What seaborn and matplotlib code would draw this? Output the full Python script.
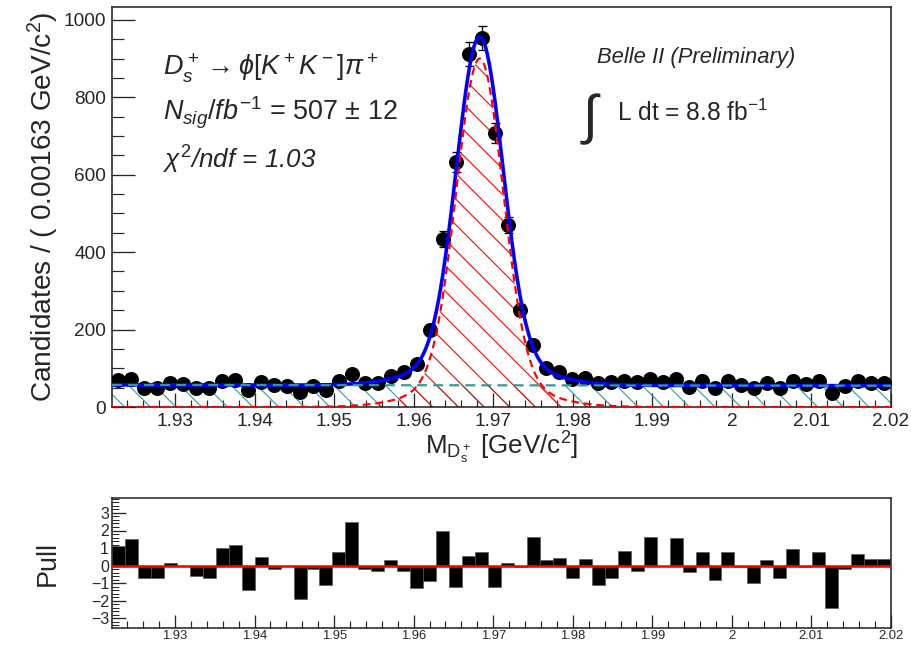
import numpy as np
import pandas as pd
import matplotlib
matplotlib.use("Agg")
import matplotlib.pyplot as plt
import seaborn as sns
from matplotlib.ticker import MultipleLocator, FuncFormatter

# ---------------- data ----------------
x_min, x_max = 1.92208, 2.02
bin_width = 0.00163
counts = [71, 72, 50, 50, 61, 59, 50, 50, 68, 71,
          44, 64, 58, 54, 40, 53, 44, 67, 84, 61,
          63, 79, 91, 111, 200, 434, 633, 912, 953, 708,
          470, 251, 160, 100, 90, 72, 74, 61, 64, 68,
          64, 72, 65, 72, 52, 68, 48, 66, 57, 50,
          61, 50, 68, 59, 66, 35, 54, 66, 61, 61]
pulls = [1.1, 1.5, -0.7, -0.7, 0.15, 0.0, -0.6, -0.7, 1.0, 1.15,
         -1.4, 0.5, -0.2, 0.0, -1.9, -0.2, -1.1, 0.8, 2.5, -0.2,
         -0.3, 0.3, -0.3, -1.25, -0.9, 2.0, -1.2, 0.55, 0.8, -1.2,
         0.15, -0.1, 1.65, 0.3, 0.45, -0.7, 0.35, -1.1, -0.7, 0.85,
         -0.3, 1.65, 0.0, 1.6, -0.35, 0.8, -0.8, 0.8, -0.1, -1.0,
         0.3, -0.7, 0.95, -0.1, 0.8, -2.4, -0.2, 0.65, 0.35, 0.35]

# fit result parameters
sig_mean = 1.9683
sig_core_amp, sig_core_width = 830.0, 0.0029
sig_tail_amp, sig_tail_width = 70.0, 0.0065
bkg_left, bkg_right = 57.0, 55.0

centers = x_min + bin_width * (np.arange(len(counts)) + 0.5)
errors = np.sqrt(np.array(counts, dtype=float))
df = pd.DataFrame({"mass": centers, "cand": counts, "err": errors, "pull": pulls})

xf = np.linspace(x_min, x_max, 800)
sig = (sig_core_amp * np.exp(-0.5 * ((xf - sig_mean) / sig_core_width) ** 2)
       + sig_tail_amp * np.exp(-0.5 * ((xf - sig_mean) / sig_tail_width) ** 2))
bkg = bkg_left + (bkg_right - bkg_left) * (xf - x_min) / (x_max - x_min)
tot = sig + bkg
curves = pd.DataFrame({"mass": xf, "sig": sig, "bkg": bkg, "tot": tot})

# ---------------- style ----------------
sns.set_theme(style="ticks")
DPI = 77
def pt(v):
    return v * 72.0 / DPI

plt.rcParams["font.family"] = ["Liberation Sans", "DejaVu Sans"]
plt.rcParams["mathtext.fontset"] = "custom"
plt.rcParams["mathtext.rm"] = "Liberation Sans"
plt.rcParams["mathtext.it"] = "Liberation Sans:italic"
plt.rcParams["mathtext.bf"] = "Liberation Sans:bold"
plt.rcParams["hatch.linewidth"] = pt(1.1)
plt.rcParams["axes.linewidth"] = pt(1.6)

fig = plt.figure(figsize=(911 / DPI, 649 / DPI), dpi=DPI)
W, H = 911.0, 649.0
ax = fig.add_axes([112 / W, 1 - 407 / H, (891 - 112) / W, 400 / H])
axp = fig.add_axes([112 / W, 1 - 628 / H, (891 - 112) / W, 130 / H])

teal = "#2f9a9a"

# hatched components
ax.fill_between(curves["mass"], 0, curves["bkg"], facecolor="none",
                edgecolor=teal, hatch="\\", linewidth=0, zorder=1)
ax.fill_between(curves["mass"], 0, curves["sig"], facecolor="none",
                edgecolor="red", hatch="\\", linewidth=0, zorder=1)

# data points
ax.errorbar(df["mass"], df["cand"], yerr=df["err"], fmt="none", ecolor="black",
            elinewidth=pt(1.3), capsize=pt(4.5), capthick=pt(1.3), zorder=2)
sns.scatterplot(data=df, x="mass", y="cand", ax=ax, color="black", s=pt(15) ** 2,
                edgecolor="black", linewidth=0, zorder=3, legend=False)

# curves
sns.lineplot(data=curves, x="mass", y="tot", ax=ax, color="#0000ff", lw=pt(3.6),
             zorder=4, legend=False)
sns.lineplot(data=curves, x="mass", y="sig", ax=ax, color="red", lw=pt(2.2),
             zorder=5, legend=False)
ax.lines[-1].set_linestyle((0, (3.5, 2.2)))
sns.lineplot(data=curves, x="mass", y="bkg", ax=ax, color=teal, lw=pt(2.2),
             zorder=6, legend=False)
ax.lines[-1].set_linestyle((0, (4.5, 2.8)))

fmt = FuncFormatter(lambda v, p: "%g" % round(v, 4))

ax.set_xlim(x_min, x_max)
ax.set_ylim(0, 1033)
ax.xaxis.set_major_locator(MultipleLocator(0.01))
ax.xaxis.set_minor_locator(MultipleLocator(0.002))
ax.xaxis.set_major_formatter(fmt)
ax.yaxis.set_major_locator(MultipleLocator(200))
ax.yaxis.set_minor_locator(MultipleLocator(50))
ax.tick_params(axis="x", which="major", direction="in", length=pt(14), width=pt(1.3),
               labelsize=pt(19), pad=pt(6))
ax.tick_params(axis="x", which="minor", direction="in", length=pt(7), width=pt(1.2))
ax.tick_params(axis="y", which="major", direction="in", length=pt(23), width=pt(1.3),
               labelsize=pt(19), pad=pt(6))
ax.tick_params(axis="y", which="minor", direction="in", length=pt(12), width=pt(1.2))
ax.set_xlabel(r"M$_{\mathrm{D_s^+}}$ [GeV/c$^{2}$]", fontsize=pt(26), labelpad=pt(0))
ax.set_ylabel(r"Candidates / ( 0.00163 GeV/c$^{2}$)", fontsize=pt(28), labelpad=pt(2))
for s in ax.spines.values():
    s.set_visible(True)

# annotations
def ftxt(x, y, s, size, **kw):
    fig.text(x / W, 1 - y / H, s, fontsize=pt(size), va="center", ha="left", **kw)

ftxt(163, 68, r"$D_s^+ \rightarrow \phi[K^+K^-]\pi^+$", 27)
ftxt(163, 113, r"$N_{sig}/fb^{-1}$ = 507 $\pm$ 12", 27)
ftxt(163, 160, r"$\chi^2$/ndf = 1.03", 26, style="italic")
ftxt(597, 57, "Belle II (Preliminary)", 22, style="italic")
ftxt(583, 119, "\u222b", 54)
ftxt(617, 113, r"L dt = 8.8 fb$^{\mathrm{-1}}$", 24.5)

# pull panel
axp.bar(df["mass"], df["pull"], width=bin_width, color="black",
        edgecolor="#555555", linewidth=pt(0.6), zorder=2)
axp.axhline(0, color="red", lw=pt(2.6), zorder=3)
axp.set_xlim(x_min, x_max)
axp.set_ylim(-3.55, 3.85)
axp.xaxis.set_major_locator(MultipleLocator(0.01))
axp.xaxis.set_minor_locator(MultipleLocator(0.002))
axp.xaxis.set_major_formatter(fmt)
axp.yaxis.set_major_locator(MultipleLocator(1))
axp.yaxis.set_minor_locator(MultipleLocator(0.2))
axp.tick_params(axis="x", which="major", direction="in", length=pt(13), width=pt(1.3),
                labelsize=pt(13), pad=pt(2))
axp.tick_params(axis="x", which="minor", direction="in", length=pt(7), width=pt(1.2))
axp.tick_params(axis="y", which="major", direction="in", length=pt(14), width=pt(1.3),
                labelsize=pt(16), pad=pt(3))
axp.tick_params(axis="y", which="minor", direction="in", length=pt(7), width=pt(1.0))
axp.set_xlabel("")
axp.set_ylabel("Pull", fontsize=pt(27), labelpad=pt(30))
for s in axp.spines.values():
    s.set_visible(True)

fig.savefig("out.png", dpi=DPI)
